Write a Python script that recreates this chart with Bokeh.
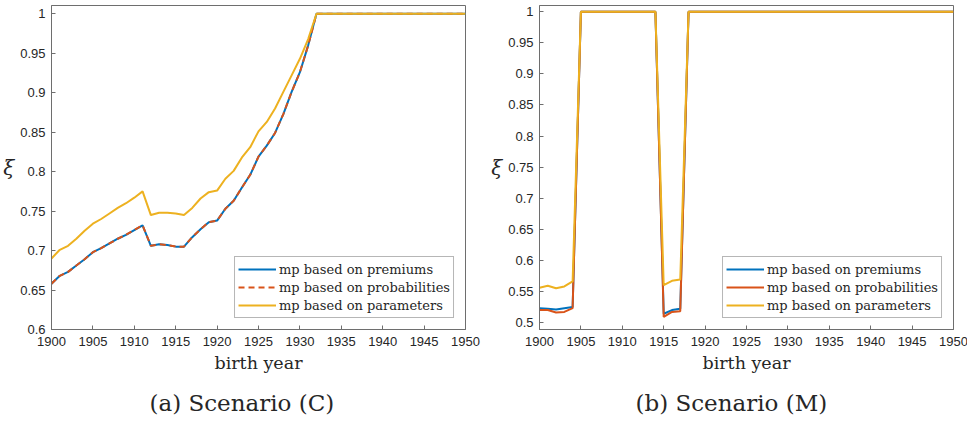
from bokeh.plotting import figure
from bokeh.layouts import row
from bokeh.models import (LinearAxis, Range1d, Legend, LegendItem, Title,
                          FixedTicker, CustomJSTickFormatter)
from bokeh.embed import file_html
from bokeh.resources import INLINE

years = list(range(1900, 1951))

# Scenario (C)
c_premiums = [0.658, 0.668, 0.673, 0.681, 0.689, 0.698, 0.703, 0.709, 0.715, 0.720,
              0.726, 0.732, 0.706, 0.708, 0.707, 0.705, 0.705, 0.717, 0.727, 0.736,
              0.738, 0.753, 0.763, 0.780, 0.796, 0.819, 0.833, 0.849, 0.873, 0.901,
              0.926, 0.960, 1.0] + [1.0] * 18
c_probabilities = [0.658, 0.668, 0.673, 0.681, 0.689, 0.698, 0.703, 0.709, 0.715, 0.720,
                   0.726, 0.732, 0.706, 0.708, 0.707, 0.705, 0.705, 0.717, 0.727, 0.736,
                   0.738, 0.753, 0.763, 0.780, 0.796, 0.819, 0.833, 0.849, 0.873, 0.901,
                   0.926, 0.960, 1.0] + [1.0] * 18
c_parameters = [0.690, 0.701, 0.706, 0.715, 0.725, 0.734, 0.740, 0.747, 0.754, 0.760,
                0.767, 0.775, 0.745, 0.748, 0.748, 0.747, 0.745, 0.754, 0.766, 0.774,
                0.776, 0.791, 0.801, 0.818, 0.831, 0.851, 0.863, 0.880, 0.901, 0.922,
                0.943, 0.968, 1.0] + [1.0] * 18

# Scenario (M)
m_premiums = [0.523, 0.522, 0.521, 0.523, 0.525] + [1.0] * 10 + [0.514, 0.520, 0.522] + [1.0] * 33
m_probabilities = [0.520, 0.520, 0.516, 0.517, 0.523] + [1.0] * 10 + [0.509, 0.517, 0.518] + [1.0] * 33
m_parameters = [0.556, 0.559, 0.555, 0.558, 0.566] + [1.0] * 10 + [0.560, 0.567, 0.569] + [1.0] * 33

x_ticks = list(range(1900, 1951, 5))
c_y_ticks = [0.6, 0.65, 0.7, 0.75, 0.8, 0.85, 0.9, 0.95, 1.0]
m_y_ticks = [0.5, 0.55, 0.6, 0.65, 0.7, 0.75, 0.8, 0.85, 0.9, 0.95, 1.0]

labels = ["mp based on premiums", "mp based on probabilities", "mp based on parameters"]
colors = ["#0072BD", "#D95319", "#EDB120"]

AXIS_COLOR = "#6e6e6e"
TEXT_COLOR = "#262626"
SERIF = "DejaVu Serif"
SANS = "Liberation Sans"

fmt = CustomJSTickFormatter(code="return String(Math.round(tick*100)/100)")


def make_panel(series, y_range, y_ticks, dashes, caption, left_border, right_border, cap_offset):
    p = figure(frame_width=414, frame_height=324, output_backend="svg", toolbar_location=None,
               x_range=Range1d(1900, 1950), y_range=Range1d(*y_range),
               min_border_left=left_border, min_border_right=right_border,
               min_border_top=5, min_border_bottom=95,
               x_axis_location=None, y_axis_location=None)
    p.grid.visible = False
    p.outline_line_color = AXIS_COLOR
    p.outline_line_width = 1
    p.background_fill_color = "white"
    p.border_fill_color = "white"

    xa = LinearAxis(ticker=FixedTicker(ticks=x_ticks), formatter=fmt,
                    axis_label="birth year")
    ya = LinearAxis(ticker=FixedTicker(ticks=y_ticks), formatter=fmt,
                    axis_label="ξ")
    for ax in (xa, ya):
        ax.axis_line_color = AXIS_COLOR
        ax.major_tick_line_color = AXIS_COLOR
        ax.major_tick_in = 4
        ax.major_tick_out = 0
        ax.minor_tick_line_color = None
        ax.major_label_text_font = SANS
        ax.major_label_text_font_size = "13px"
        ax.major_label_text_color = TEXT_COLOR
        ax.axis_label_text_font = SERIF
        ax.axis_label_text_color = TEXT_COLOR
    xa.major_label_standoff = 7
    xa.axis_label_standoff = 4
    xa.axis_label_text_font_size = "17.5px"
    xa.axis_label_text_font_style = "normal"
    ya.major_label_standoff = 6
    ya.axis_label_standoff = 3
    ya.axis_label_text_font_size = "20px"
    ya.axis_label_text_font_style = "italic"
    ya.axis_label_orientation = "horizontal"
    p.add_layout(xa, "below")
    p.add_layout(ya, "left")

    items = []
    for vals, col, lab, dash in zip(series, colors, labels, dashes):
        r = p.line(years, vals, line_color=col, line_width=2, line_dash=dash)
        items.append(LegendItem(label=lab, renderers=[r]))

    leg = Legend(items=items, location="bottom_right", margin=11, padding=3, spacing=0,
                 label_height=18, glyph_height=18, glyph_width=38, label_standoff=3,
                 label_text_font=SERIF, label_text_font_size="13px",
                 label_text_color=TEXT_COLOR,
                 border_line_color=AXIS_COLOR, border_line_width=1,
                 background_fill_color="white", background_fill_alpha=1)
    p.add_layout(leg)

    cap = Title(text=caption, align="left", offset=cap_offset, standoff=24,
                text_font=SERIF, text_font_size="23px", text_font_style="normal",
                text_color=TEXT_COLOR)
    p.add_layout(cap, "below")
    return p


p1 = make_panel([c_premiums, c_probabilities, c_parameters], (0.6, 1.0105), c_y_ticks,
                ["solid", "6 4", "solid"], "(a) Scenario (C)", 50, 19, 98)
p2 = make_panel([m_premiums, m_probabilities, m_parameters], (0.4887, 1.0101), m_y_ticks,
                ["solid", "solid", "solid"], "(b) Scenario (M)", 55, 15, 96)

layout = row(p1, p2, spacing=0)
open("out.html", "w").write(file_html(layout, INLINE))
